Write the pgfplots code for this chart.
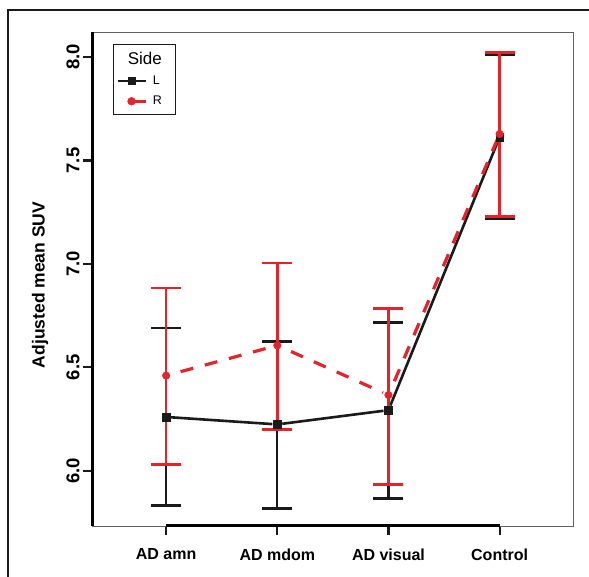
\documentclass[border=0pt]{standalone}
\usepackage{fontspec}
\setmainfont{Liberation Sans}
\usepackage{pgfplots}
\pgfplotsset{compat=1.18}
\definecolor{rred}{HTML}{E4232A}
\definecolor{rblack}{HTML}{1A1A1A}

\begin{document}
\begin{tikzpicture}
% outer panel frame
\draw[line width=2pt, rblack] (8pt,0pt) -- (8pt,567pt) -- (590pt,567pt);

\begin{axis}[
  name=ax,
  at={(92pt,51pt)}, anchor=south west,
  scale only axis,
  width=481pt, height=494pt,
  xmin=0.333, xmax=4.66,
  ymin=5.733, ymax=8.121,
  clip=false,
  axis line style={draw=gray!75!black, line width=0.9pt},
  tick pos=left, tick align=outside,
  major tick length=9pt,
  tick style={rblack, line width=2.2pt},
  xtick={1,2,3,4},
  xticklabels={AD amn, AD mdom, AD visual, Control},
  ytick={6,6.5,7,7.5,8},
  /pgf/number format/assume math mode=true,
  yticklabel style={rotate=90, anchor=south, font=\bfseries\fontsize{18.5}{18}\selectfont,
    /pgf/number format/.cd, fixed, fixed zerofill, precision=1},
  xticklabel style={font=\bfseries\fontsize{16}{16}\selectfont, yshift=-10pt},
  ylabel={Adjusted mean SUV},
  ylabel style={at={(axis description cs:-0.108,0.488)}, anchor=center, rotate=0,
    font=\bfseries\fontsize{17.5}{17}\selectfont},
  legend style={at={(axis description cs:0.0437,0.9757)}, anchor=north west,
    draw=rblack, line width=0.6pt, inner xsep=3pt, inner ysep=6pt,
    font=\fontsize{12.5}{13}\selectfont, row sep=6pt},
  legend cell align=left,
]
% Side L: error bars and points
\addplot[forget plot, rblack, only marks, mark=square*, mark size=3.8pt,
  error bars/.cd, y dir=both, y explicit,
  error bar style={line width=2.2pt, rblack},
  error mark options={rotate=90, line width=2.8pt, mark size=15pt, rblack}]
  coordinates {
    (1,6.260) += (0,0.430) -= (0,0.426)
    (2,6.224) += (0,0.402) -= (0,0.406)
    (3,6.293) += (0,0.423) -= (0,0.427)
    (4,7.613) += (0,0.397) -= (0,0.396)
  };
\addplot[forget plot, rblack, line width=2.6pt, shorten <=5pt, shorten >=5pt] coordinates {(1,6.260) (2,6.224)};
\addplot[forget plot, rblack, line width=2.6pt, shorten <=5pt, shorten >=5pt] coordinates {(2,6.224) (3,6.293)};
\addplot[forget plot, rblack, line width=2.6pt, shorten <=5pt, shorten >=5pt] coordinates {(3,6.293) (4,7.613)};

% Side R: error bars and points
\addplot[forget plot, rred, only marks, mark=*, mark size=3.8pt,
  error bars/.cd, y dir=both, y explicit,
  error bar style={line width=2.6pt, rred},
  error mark options={rotate=90, line width=2.8pt, mark size=15pt, rred}]
  coordinates {
    (1,6.460) += (0,0.423) -= (0,0.429)
    (2,6.606) += (0,0.398) -= (0,0.406)
    (3,6.366) += (0,0.419) -= (0,0.432)
    (4,7.628) += (0,0.392) -= (0,0.400)
  };
\addplot[forget plot, rred, line width=3.2pt, dash pattern=on 13pt off 12pt, dash phase=16pt, shorten <=6pt, shorten >=6pt] coordinates {(1,6.460) (2,6.606)};
\addplot[forget plot, rred, line width=3.2pt, dash pattern=on 13pt off 12pt, dash phase=16pt, shorten <=6pt, shorten >=6pt] coordinates {(2,6.606) (3,6.366)};
\addplot[forget plot, rred, line width=3.2pt, dash pattern=on 13pt off 12pt, dash phase=16pt, shorten <=6pt, shorten >=6pt] coordinates {(3,6.366) (4,7.628)};

% legend
\addlegendimage{empty legend}
\addlegendentry{\llap{\fontsize{17}{17}\selectfont Side\hspace{-9pt}}}
\addlegendimage{legend image code/.code={
  \draw[rblack, line width=2.4pt] (0pt,0pt) -- (28pt,0pt);
  \fill[rblack] (11pt,-3.5pt) rectangle (18pt,3.5pt);
  \path (33pt,0pt);}}
\addlegendentry{L\hspace*{8pt}}
\addlegendimage{legend image code/.code={
  \draw[rred, line width=2.8pt] (10pt,0pt) -- (28pt,0pt);
  \fill[rred] (14pt,0pt) circle (3.8pt);
  \path (33pt,0pt);}}
\addlegendentry{R\hspace*{8pt}}
\end{axis}
% thick axis parts (left side, bottom between first and last category)
\draw[line width=3pt, black] (ax.south west) -- (ax.north west);
\draw[line width=3pt, black] (166.1pt,51pt) -- (499.6pt,51pt);
\pgfresetboundingbox
\path (0pt,0pt) rectangle (589pt,577pt);
\end{tikzpicture}
\end{document}
